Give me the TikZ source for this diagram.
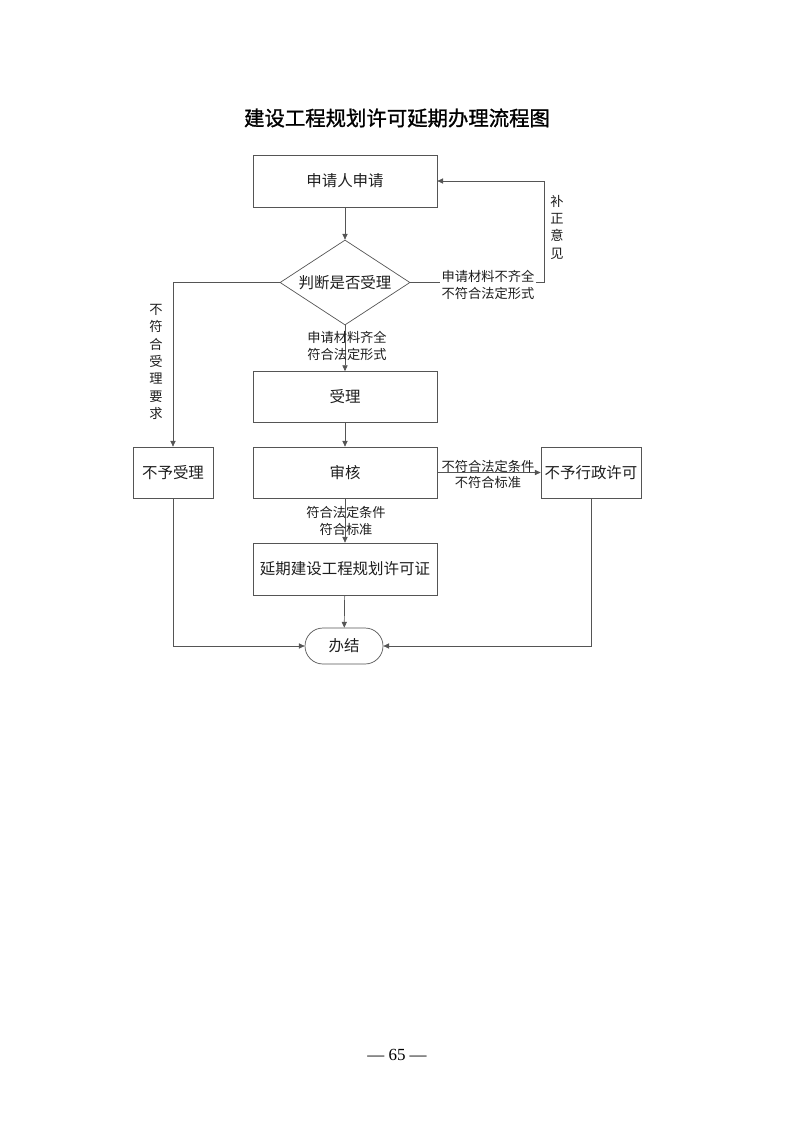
\documentclass[tikz,border=0pt]{standalone}
\usepackage{fontspec}
\newfontfamily\cjk{Noto Sans CJK SC}
\newfontfamily\cjktitle{Noto Sans CJK SC}[FakeBold=1.2]
\newfontfamily\timesf{Liberation Serif}
\usetikzlibrary{arrows.meta,shapes.geometric,shapes.misc}
\definecolor{linegray}{RGB}{85,85,85}
\definecolor{textgray}{RGB}{30,30,30}
\tikzset{
  boxstyle/.style={draw=linegray, line width=0.6pt, rectangle, inner sep=0pt, text=textgray,
    font=\cjk\fontsize{13.2}{15}\selectfont},
  lbl/.style={text=textgray, inner sep=1pt, align=center,
    font=\cjk\fontsize{11.3}{14.5}\selectfont},
  vlbl/.style={text=textgray, inner sep=0pt, align=center,
    font=\cjk\fontsize{11.3}{14.8}\selectfont},
  conn/.style={draw=linegray, line width=0.6pt},
  arr/.style={conn, -{Triangle[length=5pt,width=4.5pt]}},
}
\begin{document}
\begin{tikzpicture}[x=0.03cm,y=-0.03cm]
\useasboundingbox (0,0) rectangle (793,1122);
% title
\node[text=black, font=\cjktitle\fontsize{17.4}{20}\selectfont] (title) at (397,118) {建设工程规划许可延期办理流程图};
% nodes
\node[boxstyle, minimum width=5.52cm, minimum height=1.56cm] (apply) at (345,181) {申请人申请};
\node[boxstyle, diamond, minimum width=3.9cm, minimum height=2.55cm, aspect=1.53] (dec) at (345,282.5) {判断是否受理};
\node[boxstyle, minimum width=5.52cm, minimum height=1.53cm] (acc) at (345,397) {受理};
\node[boxstyle, minimum width=5.52cm, minimum height=1.53cm] (rev) at (345,472.5) {审核};
\node[boxstyle, minimum width=2.4cm, minimum height=1.53cm] (noacc) at (173,472.5) {不予受理};
\node[boxstyle, minimum width=3.0cm, minimum height=1.53cm] (nolic) at (591,472.5) {不予行政许可};
\node[boxstyle, minimum width=5.52cm, minimum height=1.56cm] (ext) at (345,569) {延期建设工程规划许可证};
\node[boxstyle, rounded rectangle, minimum width=2.34cm, minimum height=1.08cm] (end) at (344,646) {办结};
% coordinates
\coordinate (fbR) at (544,282.5);
\coordinate (nlL) at (173,646);
\coordinate (nlR) at (591,646);
% connectors
\draw[arr] (apply) -- (dec);
\draw[arr] (dec.east) -- (fbR) |- (apply.east);
\draw[arr] (dec.west) -| (noacc.north);
\draw[arr] (dec.south) -- (acc.north);
\draw[arr] (acc) -- (rev);
\draw[arr] (rev.east) -- (nolic.west);
\draw[arr] (rev.south) -- (ext.north);
\draw[arr] (ext) -- (end);
\draw[arr] (noacc.south) -- (nlL) -- (end.west);
\draw[arr] (nolic.south) -- (nlR) -- (end.east);
% labels
\node[lbl, fill=white] (l1) at (488,285) {申请材料不齐全\\不符合法定形式};
\node[vlbl] (l2) at (557,227) {补\\正\\意\\见};
\node[vlbl] (l3) at (156,362) {不\\符\\合\\受\\理\\要\\求};
\node[lbl] (l4) at (347,345.5) {申请材料齐全\\符合法定形式};
\node[lbl, anchor=south, inner sep=1pt] (l5) at (488,474) {不符合法定条件};
\node[lbl, anchor=north, inner sep=3pt] (l6) at (488,473) {不符合标准};
\node[lbl] (l7) at (346,521) {符合法定条件\\符合标准};
% page number
\node[text=black, font=\timesf\fontsize{14.5}{16}\selectfont] (page) at (397,1055) {— 65 —};
\end{tikzpicture}
\end{document}
